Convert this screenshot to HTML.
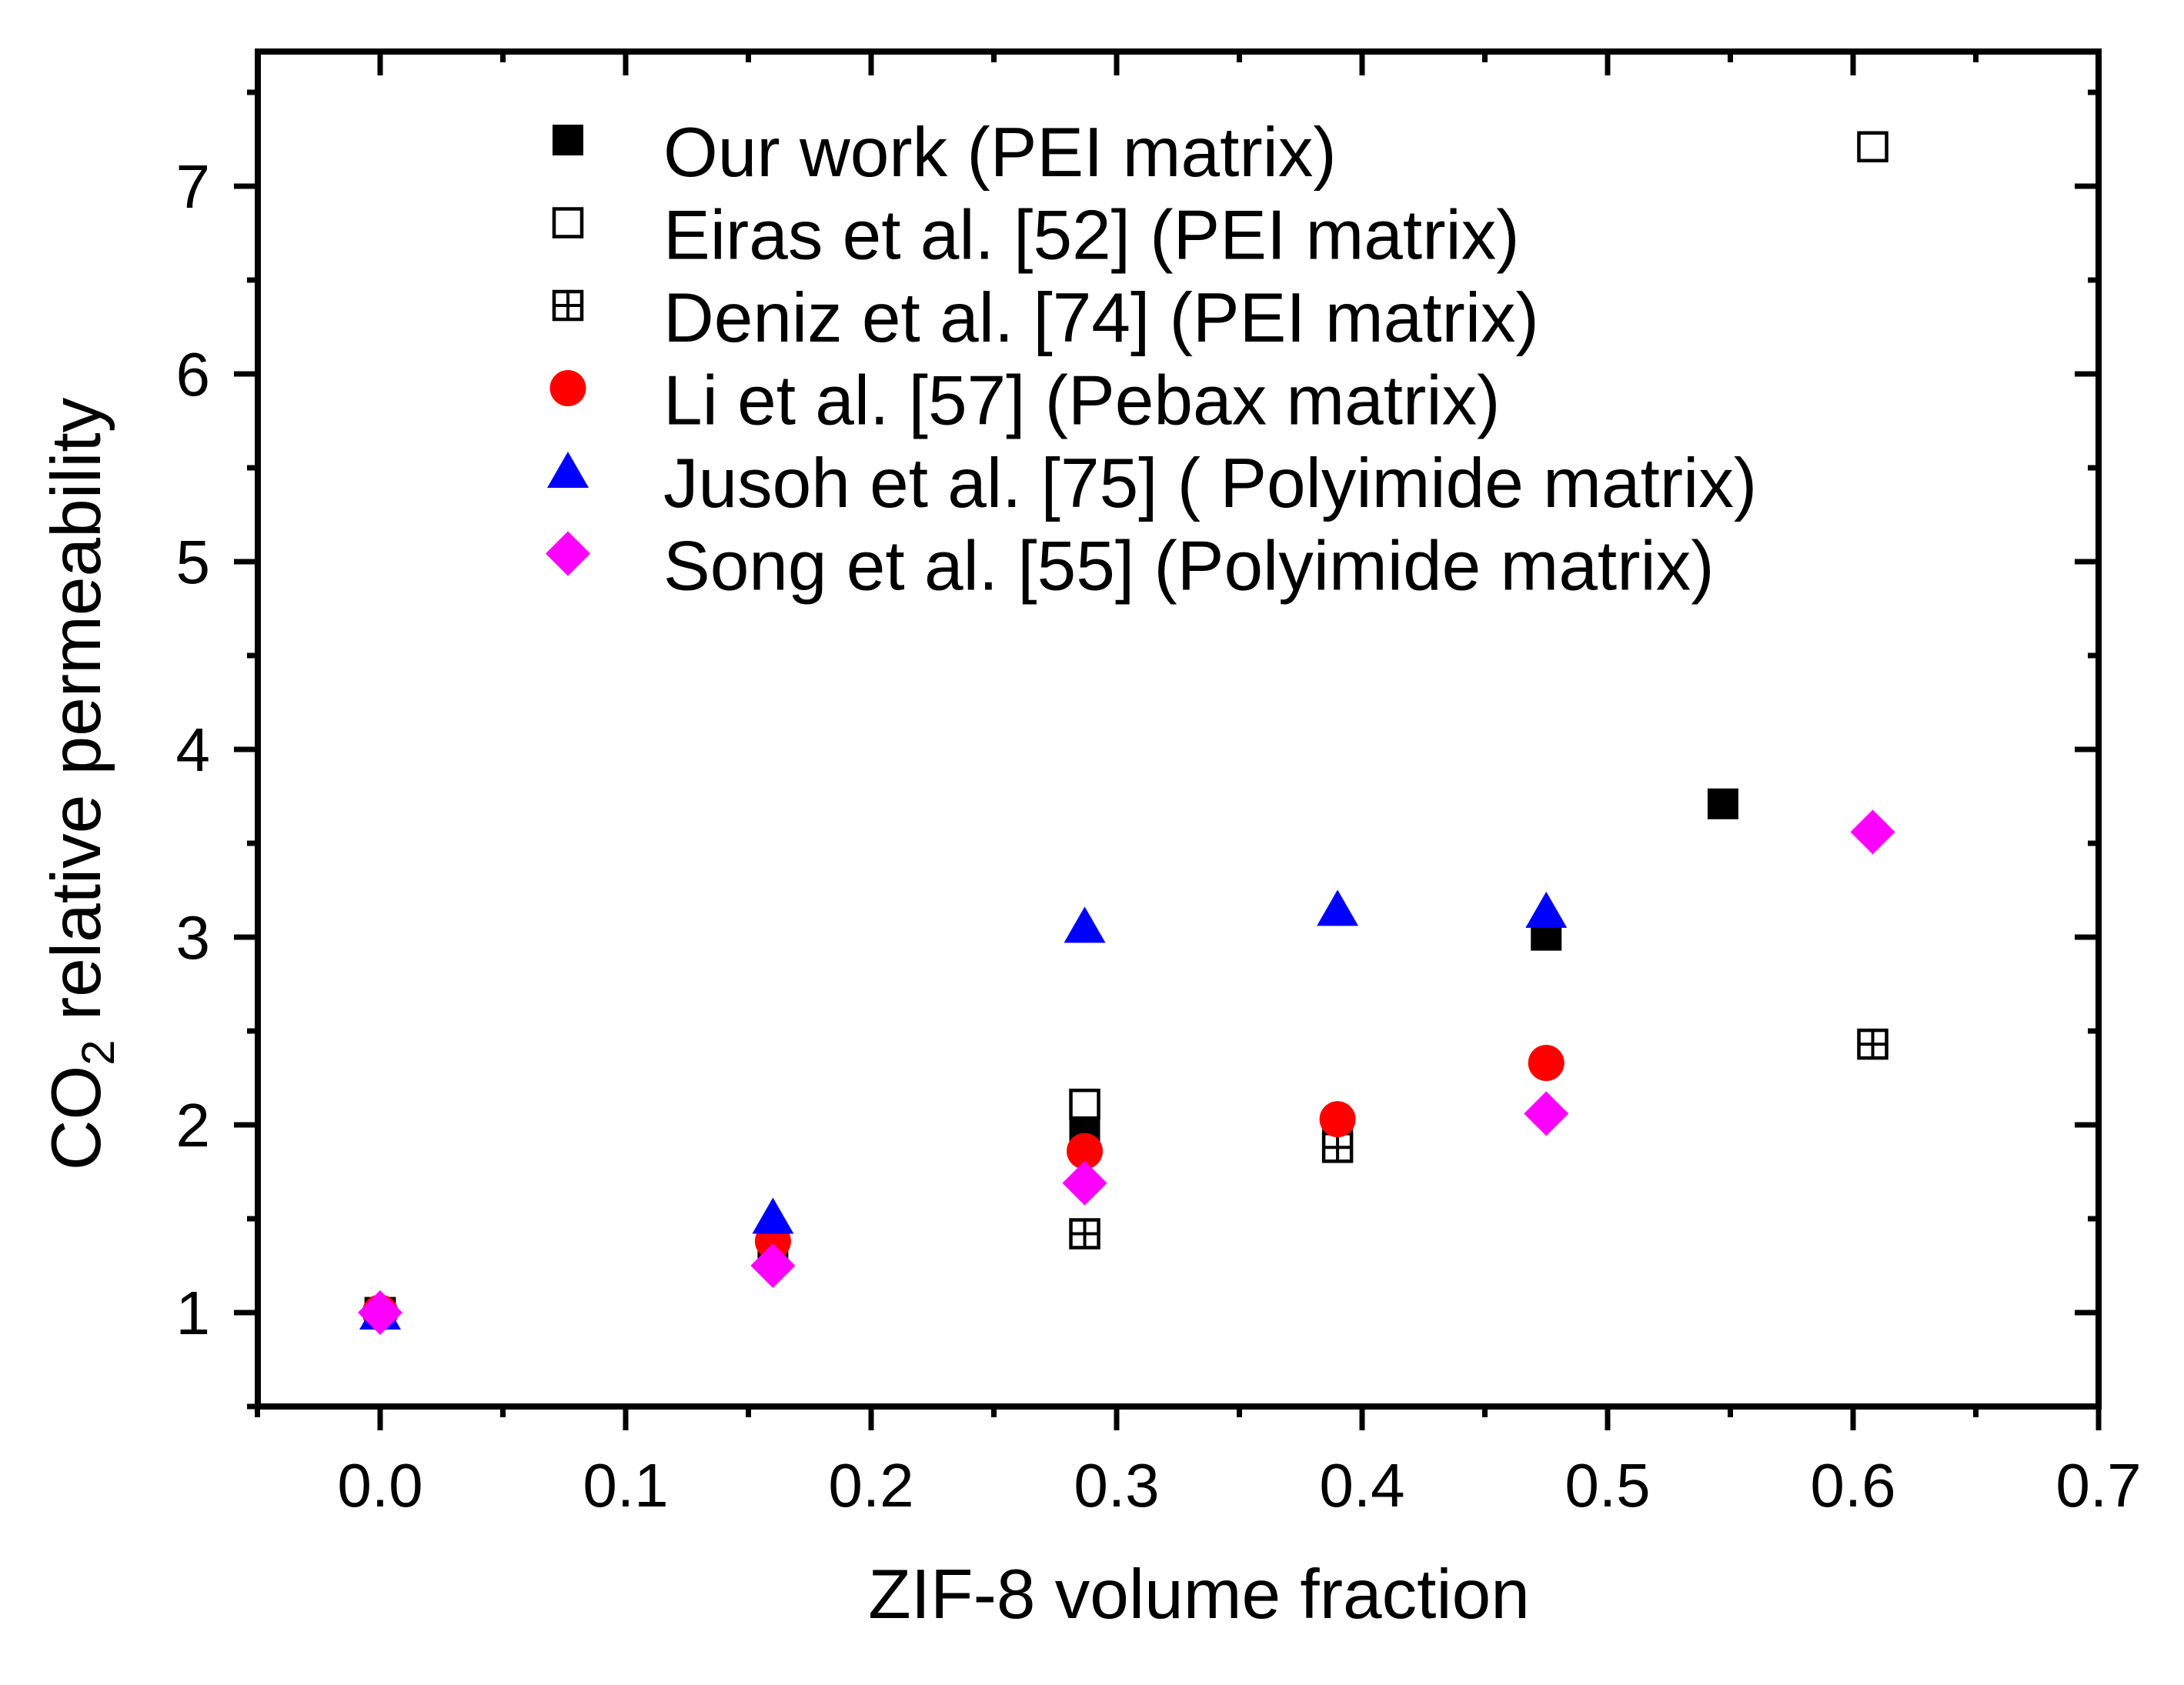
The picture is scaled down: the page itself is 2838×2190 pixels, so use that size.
<!DOCTYPE html>
<html><head><meta charset="utf-8"><style>
html,body{margin:0;padding:0;background:#fff;}
svg{display:block;font-family:"Liberation Sans",Arial,sans-serif;}
</style></head><body>
<svg id="chart" width="2838" height="2190" viewBox="0 0 2838 2190" xmlns="http://www.w3.org/2000/svg">
<rect width="2838" height="2190" fill="#fff"/>
<g id="axes"></g>
<g id="marks"></g>
<g id="legend"></g>
<text x="1558" y="2103" font-size="91" text-anchor="middle">ZIF-8 volume fraction</text>
<text transform="translate(130,1019) rotate(-90)" font-size="91" text-anchor="middle">CO<tspan font-size="60" dy="18">2</tspan><tspan dy="-18"> relative permeability</tspan></text>
</svg>
<script>
const xTicks = [0.0,0.1,0.2,0.3,0.4,0.5,0.6,0.7];
const xTickLabels = ["0.0","0.1","0.2","0.3","0.4","0.5","0.6","0.7"];
const yTicks = [1,2,3,4,5,6,7];
const yTickLabels = ["1","2","3","4","5","6","7"];
const seriesNames = ["Our work (PEI matrix)","Eiras et al. [52] (PEI matrix)","Deniz et al. [74] (PEI matrix)","Li et al. [57] (Pebax matrix)","Jusoh et al. [75] ( Polyimide matrix)","Song et al. [55] (Polyimide matrix)"];
const ourX = [0, 0.16, 0.287, 0.39, 0.475, 0.547];
const ourY = [1, 1.35, 1.97, 2.0, 3.01, 3.71];
const eirasX = [0, 0.287, 0.608];
const eirasY = [1, 2.11, 7.21];
const denizX = [0, 0.287, 0.39, 0.608];
const denizY = [1, 1.42, 1.88, 2.43];
const liX = [0, 0.16, 0.287, 0.39, 0.475];
const liY = [1, 1.38, 1.86, 2.03, 2.33];
const jusohX = [0, 0.16, 0.287, 0.39, 0.475];
const jusohY = [1, 1.51, 3.06, 3.15, 3.14];
const songX = [0, 0.16, 0.287, 0.475, 0.608];
const songY = [1, 1.25, 1.69, 2.06, 3.56];

const NS="http://www.w3.org/2000/svg";
const L=335,R=2727,T=67,B=1828;
function X(v){return 494+v*3190;}
function Y(v){return 1706-(v-1)*244;}
function mk(tag,attrs,parent){const e=document.createElementNS(NS,tag);for(const k in attrs)e.setAttribute(k,attrs[k]);parent.appendChild(e);return e;}
const axes=document.getElementById('axes');
const frame=mk('rect',{x:L,y:T,width:R-L,height:B-T,fill:'none',stroke:'#000','stroke-width':8},axes);


for(let i=-1;i<=14;i++){
  const v=i*0.05, x=X(v); const major=(i%2===0);
  const len=major?31:14;
  const t1=mk('line',{x1:x,y1:B,x2:x,y2:B+len,stroke:'#000','stroke-width':7},axes);
  
  
  if(i<14){const t2=mk('line',{x1:x,y1:T,x2:x,y2:T+len,stroke:'#000','stroke-width':7},axes);
  
  }
}
xTicks.forEach((v,i)=>{
  const t=mk('text',{x:X(v),y:1958,'font-size':80,'text-anchor':'middle'},axes);
  t.textContent=xTickLabels[i];
  
  
});
for(let i=1;i<=15;i++){
  const v=i*0.5, y=Y(v); if(y<T-2) continue; const major=(i%2===0);
  const len=major?31:14;
  const t1=mk('line',{x1:L,y1:y,x2:L-len,y2:y,stroke:'#000','stroke-width':7},axes);
  
  
  const t2=mk('line',{x1:R,y1:y,x2:R-len,y2:y,stroke:'#000','stroke-width':7},axes);
  
  
}
yTicks.forEach((v,i)=>{
  const t=mk('text',{x:273,y:Y(v)+28,'font-size':80,'text-anchor':'end'},axes);
  t.textContent=yTickLabels[i];
  
  
});
function drawMarker(kind,cx,cy,parent){
  let e;
  if(kind==='fsq'){e=mk('rect',{x:cx-20,y:cy-20,width:40,height:40,fill:'#000'},parent);}
  else if(kind==='osq'){e=mk('rect',{x:cx-18,y:cy-18,width:36,height:36,fill:'#fff',stroke:'#000','stroke-width':4.5},parent);}
  else if(kind==='xsq'){e=mk('g',{},parent);
    mk('rect',{x:cx-18,y:cy-18,width:36,height:36,fill:'#fff',stroke:'#000','stroke-width':4.5},e);
    mk('path',{d:`M${cx} ${cy-18}V${cy+18}M${cx-18} ${cy}H${cx+18}`,stroke:'#000','stroke-width':4},e);}
  else if(kind==='circ'){e=mk('circle',{cx:cx,cy:cy,r:23.5,fill:'#ff0000'},parent);}
  else if(kind==='tri'){e=mk('polygon',{points:`${cx},${cy-25} ${cx-27},${cy+22} ${cx+27},${cy+22}`,fill:'#0000ff'},parent);}
  else {e=mk('polygon',{points:`${cx},${cy-29} ${cx+29},${cy} ${cx},${cy+29} ${cx-29},${cy}`,fill:'#ff00ff'},parent);}
  return e;
}
const marks=document.getElementById('marks');
const series=[['fsq',ourX,ourY,'our-work'],['osq',eirasX,eirasY,'eiras'],['xsq',denizX,denizY,'deniz'],['circ',liX,liY,'li'],['tri',jusohX,jusohY,'jusoh'],['dia',songX,songY,'song']];
series.forEach(s=>{
  s[1].forEach((xv,i)=>{
    const e=drawMarker(s[0],X(xv),Y(s[2][i]),marks);
    
    
  });
});
const legend=document.getElementById('legend');
seriesNames.forEach((n,i)=>{
  const y=182+i*107.5;
  const m=drawMarker(series[i][0],738,y,legend);
  
  
  const t=mk('text',{x:862,y:y+47,'font-size':91},legend);
  t.textContent=n;
  
  
});
</script>
</body></html>
